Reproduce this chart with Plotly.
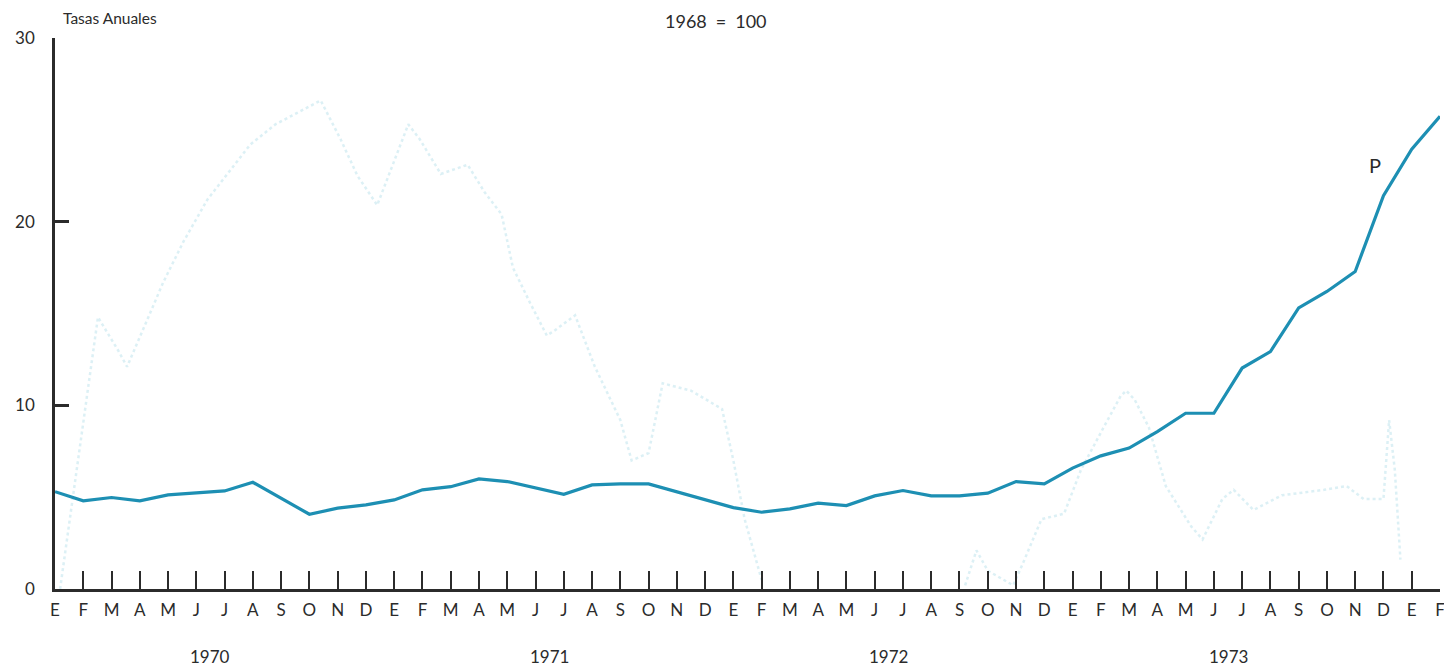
import plotly.graph_objects as go

# ---- data ----
months = ["E", "F", "M", "A", "M", "J", "J", "A", "S", "O", "N", "D"] * 4 + ["E", "F"]
years = ["1970", "1971", "1972", "1973"]

# Tasas anuales (main series), monthly Jan 1970 .. Feb 1974
tasas = [5.30, 4.80, 4.98, 4.80, 5.12, 5.22, 5.34, 5.81, 4.95, 4.07, 4.40, 4.58,
         4.85, 5.40, 5.57, 5.99, 5.85, 5.50, 5.16, 5.67, 5.72, 5.72, 5.30, 4.85,
         4.43, 4.18, 4.36, 4.67, 4.54, 5.07, 5.36, 5.07, 5.07, 5.22, 5.85, 5.72,
         6.58, 7.25, 7.67, 8.57, 9.57, 9.57, 12.03, 12.93, 15.30, 16.20, 17.29, 21.42,
         23.95, 25.74]

# faint bleed-through trace visible in the scan (month-unit positions, values)
ghost_x = [0.18, 1.52, 2.23, 2.55, 3.83, 4.54, 5.39, 6.21, 6.91, 7.80, 9.40, 10.1,
           10.7, 11.4, 12.2, 12.5, 12.9, 13.65, 14.6, 15.2, 15.8, 16.2, 16.8, 17.4,
           17.7, 18.4, 19.1, 20.0, 20.4, 21.0, 21.5, 22.5, 23.6, 24.0, 24.4, 25.0,
           None,
           32.2, 32.6, 33.0, 33.9, 34.3, 34.9, 35.7, 36.3, 37.1, 37.7, 37.9, 38.2,
           38.7, 39.3, 40.2, 40.6, 41.3, 41.7, 42.4, 43.4, 44.9, 45.7, 46.3, 47.0,
           47.2, 47.4, 47.6]
ghost_y = [0.0, 14.8, 13.0, 12.1, 16.7, 18.9, 21.2, 22.8, 24.2, 25.3, 26.6, 24.5,
           22.5, 20.9, 24.1, 25.3, 24.5, 22.6, 23.1, 21.6, 20.4, 17.5, 15.6, 13.8,
           14.1, 14.9, 12.1, 9.2, 7.0, 7.4, 11.2, 10.8, 9.8, 7.0, 3.8, 0.5,
           None,
           0.2, 2.1, 1.0, 0.2, 1.6, 3.8, 4.1, 6.5, 8.8, 10.5, 10.8, 10.3,
           8.8, 5.6, 3.4, 2.7, 4.9, 5.4, 4.3, 5.1, 5.4, 5.6, 4.9, 4.9,
           9.2, 6.5, 1.6]

y_ticks = [0, 10, 20, 30]
y_ticktext = ["0", "10", "20", "30"]
header_left = "Tasas Anuales"
header_center = "1968\u2002=\u2002100"
mark_label = "P"

FONT = "Lato, 'Open Sans', sans-serif"
INK = "#2b2b2b"

x_idx = list(range(len(months)))

fig = go.Figure()

fig.add_trace(go.Scatter(
    x=ghost_x, y=ghost_y, mode="lines",
    line=dict(color="rgba(140,205,222,0.30)", width=2.5, dash="dot"),
    hoverinfo="skip", showlegend=False, connectgaps=False,
))

fig.add_trace(go.Scatter(
    x=x_idx, y=tasas, mode="lines",
    line=dict(color="#1d8fb3", width=3.2),
    showlegend=False, cliponaxis=False,
))

# year labels (centred under each year's months)
for k, yr in enumerate(years):
    fig.add_annotation(x=5.5 + 12 * k, y=0, xref="x", yref="paper",
                       yshift=-80, text=yr, showarrow=False,
                       font=dict(family=FONT, size=17, color=INK))

# header texts
fig.add_annotation(x=0, y=1, xref="paper", yref="paper", yshift=31, xshift=6,
                   xanchor="left", text=header_left, showarrow=False,
                   font=dict(family=FONT, size=15.5, color=INK))
fig.add_annotation(x=0.4775, y=1, xref="paper", yref="paper", yshift=30,
                   text=header_center, showarrow=False,
                   font=dict(family=FONT, size=18, color=INK))

# preliminary mark
fig.add_annotation(x=46.7, y=23.1, xref="x", yref="y", text=mark_label,
                   showarrow=False, font=dict(family=FONT, size=20, color=INK))

fig.update_layout(
    width=1444, height=660,
    margin=dict(l=47, r=7, t=30, b=79),
    paper_bgcolor="white", plot_bgcolor="white",
    font=dict(family=FONT, color=INK),
    xaxis=dict(
        range=[0, 49], tickvals=x_idx, ticktext=months,
        showline=True, linecolor=INK, linewidth=2.5,
        ticks="inside", ticklen=18, tickwidth=2, tickcolor=INK,
        tickfont=dict(family=FONT, size=17, color=INK),
        ticklabelstandoff=4,
        showgrid=False, zeroline=False, fixedrange=True,
    ),
    yaxis=dict(
        range=[0, 30], tickvals=y_ticks, ticktext=y_ticktext,
        showline=True, linecolor=INK, linewidth=2.5,
        ticks="inside", ticklen=14, tickwidth=2.5, tickcolor=INK,
        tickfont=dict(family=FONT, size=17, color=INK),
        ticklabelstandoff=14,
        showgrid=False, zeroline=False, fixedrange=True,
    ),
)

fig.write_html("out.html")
